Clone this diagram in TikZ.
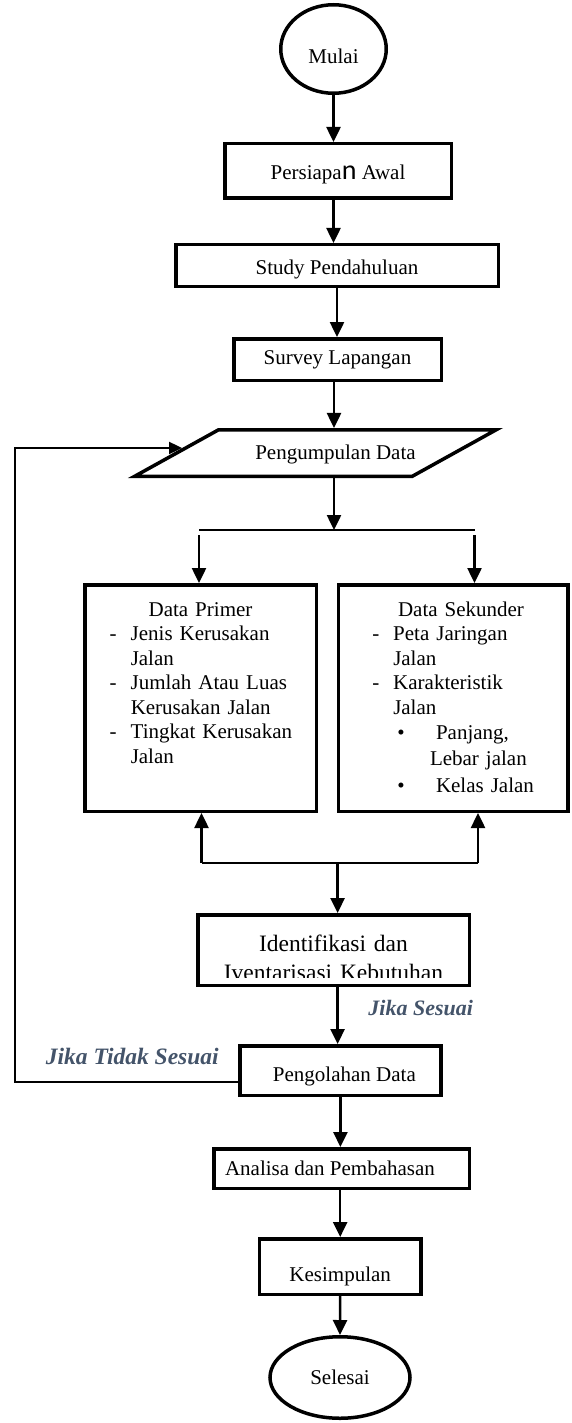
\documentclass[tikz,border=0pt]{standalone}
\usepackage{fontspec}
\setmainfont{Liberation Serif}
\newfontfamily\hurufn{Carlito}
\usepackage{tikz}
\usetikzlibrary{shapes.geometric,arrows.meta}
\definecolor{birujika}{HTML}{44546A}

\begin{document}
\begin{tikzpicture}[x=1pt, y=-1pt]
\tikzstyle{every node} = [font=\fontsize{21}{24.5}\selectfont, inner sep=0pt]
\tikzstyle{kotak} = [draw, rectangle, line width=3.5pt]
\tikzstyle{terminal} = [draw, ellipse, line width=3.5pt]
\tikzstyle{datakotak} = [kotak, anchor=north, align=left, minimum height=226.5pt, text height=31.25pt, text depth=195.25pt]
\tikzstyle{ket} = [font=\fontsize{22}{26}\selectfont\bfseries\itshape, text=birujika]
\tikzstyle{panah} = [line width=2.5pt, -{Triangle[width=14pt,length=15pt]}]
\tikzstyle{garis} = [line width=2pt]
\tikzstyle{balik} = [line width=2pt, -{Triangle[width=12pt,length=13pt]}]
\useasboundingbox (0,0) rectangle (571,1423);

\node[terminal, minimum width=105.5pt, minimum height=88.5pt, text height=29pt] (mulai) at (333.5,49) {Mulai};
\node[kotak, minimum width=226.5pt, minimum height=54.5pt, text height=22.3pt] (persiapan) at (338,171) {Persiapa{\hurufn\fontsize{28}{28}\selectfont n} Awal};
\node[kotak, minimum width=322.5pt, minimum height=41.5pt, text height=23.5pt] (study) at (337,265.5) {Study Pendahuluan};
\node[kotak, minimum width=207.5pt, minimum height=41.5pt] (survey) at (337.5,359.5) {Survey Lapangan};
\node[draw, trapezium, trapezium left angle=29, trapezium right angle=151, trapezium stretches body, line width=3.5pt, minimum width=361.5pt, text height=30pt, text depth=16.5pt] (pengumpulan) at (315.5,453) {\hspace*{20pt}Pengumpulan Data\hspace*{-20pt}};

% dua kotak data
\node[datakotak, minimum width=231.5pt, text width=231.5pt] (primer) at (200.5,583) {%
\makebox[\linewidth]{Data Primer}\\
\hspace*{24.75pt}\makebox[21.25pt][l]{-}Jenis Kerusakan\\
\hspace*{46pt}Jalan\\
\hspace*{24.75pt}\makebox[21.25pt][l]{-}Jumlah Atau Luas\\
\hspace*{46pt}Kerusakan Jalan\\
\hspace*{24.75pt}\makebox[21.25pt][l]{-}Tingkat Kerusakan\\
\hspace*{46pt}Jalan};
\node[datakotak, minimum width=229.5pt, text width=229.5pt] (sekunder) at (453,583) {%
\makebox[\linewidth]{\hspace*{16pt}Data Sekunder}\\
\hspace*{34pt}\makebox[21pt][l]{-}Peta Jaringan\\
\hspace*{55pt}Jalan\\
\hspace*{34pt}\makebox[21pt][l]{-}Karakteristik\\
\hspace*{55pt}Jalan\\[1pt]
\hspace*{59pt}\makebox[38.75pt][l]{•}Panjang,\\[1.5pt]
\hspace*{91.75pt}Lebar jalan\\[2pt]
\hspace*{59pt}\makebox[38.75pt][l]{•}Kelas Jalan};

\node[kotak, minimum width=271.5pt, minimum height=70.5pt] (identifikasi) at (333.5,950) {};
\begin{scope}
\clip (identifikasi.north west) rectangle ([yshift=10pt]identifikasi.south east);
\node[font=\fontsize{23.5}{29}\selectfont, text width=271.5pt, align=center, anchor=base] (identifikasiteks) at (333.5,951.7) {Identifikasi dan\\Iventarisasi Kebutuhan};
\end{scope}

\node[kotak, minimum width=201pt, minimum height=49.5pt, text height=27pt] (pengolahan) at (340.4,1070.5) {\hspace*{4pt}Pengolahan Data\hspace*{-4pt}};
\node[kotak, minimum width=255.5pt, minimum height=39.5pt] (analisa) at (341.5,1168.5) {\hspace*{-11.5pt}Analisa dan Pembahasan\hspace*{11.5pt}};
\node[kotak, minimum width=161.5pt, minimum height=55.5pt, text height=35pt] (kesimpulan) at (340.2,1266.5) {Kesimpulan};
\node[terminal, minimum width=140pt, minimum height=81.5pt] (selesai) at (340,1377.5) {Selesai};

\node[ket] (jikasesuai) at (420.7,1008) {Jika Sesuai};
\node[ket, font=\fontsize{23.5}{26}\selectfont\bfseries\itshape] (jikatidak) at (132.3,1056) {Jika Tidak Sesuai};

\coordinate (cabang) at (334,530);
\coordinate (bagikiri) at (199,530);
\coordinate (bagikanan) at (474.5,530);
\coordinate (gabungkiri) at (201.5,863);
\coordinate (gabungkanan) at (478,863);
\coordinate (gabungtengah) at (337.6,863);
\coordinate (pojok) at (15,1082);

\draw[panah] (mulai.south) -- (mulai.south |- persiapan.north);
\draw[panah] (mulai.south |- persiapan.south) -- (mulai.south |- study.north);
\draw[panah] (study.south) -- (study.south |- survey.north);
\draw[panah] (cabang |- survey.south) -- (cabang |- pengumpulan.north);
\draw[panah] (cabang |- pengumpulan.south) -- (cabang);
\draw[garis] (bagikiri) -- (bagikanan);
\draw[panah] ([yshift=-5pt]bagikiri) -- (bagikiri |- primer.north);
\draw[panah] ([yshift=-5pt]bagikanan) -- (bagikanan |- sekunder.north);

\draw[panah] (gabungkiri) -- (gabungkiri |- primer.south);
\draw[panah] (gabungkanan) -- (gabungkanan |- sekunder.south);
\draw[garis] (gabungkiri) -- (gabungkanan);
\draw[panah] (gabungtengah) -- (gabungtengah |- identifikasi.north);
\draw[panah] (gabungtengah |- identifikasi.south) -- (gabungtengah |- pengolahan.north);
\draw[panah] (pengolahan.south) -- (pengolahan.south |- analisa.north);
\draw[panah] (kesimpulan.north |- analisa.south) -- (kesimpulan.north);
\draw[panah] (kesimpulan.south) -- (selesai.north);

\draw[balik] ([yshift=-11.5pt]pengolahan.west) -- (pojok) |- ([xshift=9pt,yshift=5pt]pengumpulan.west);
\end{tikzpicture}
\end{document}
